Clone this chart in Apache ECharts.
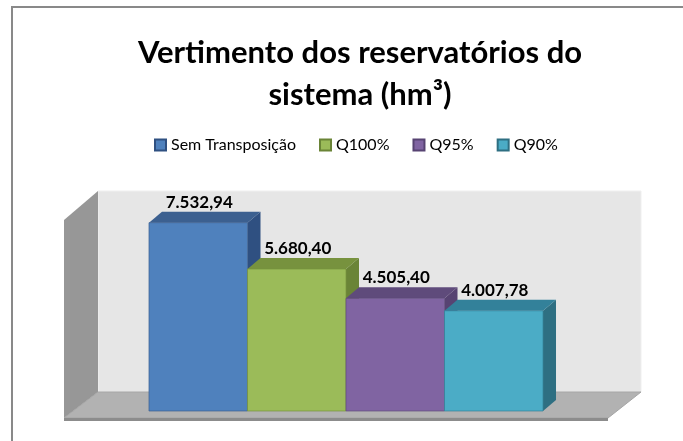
<!DOCTYPE html>
<html>
<head>
<meta charset="utf-8">
<script src="https://cdn.jsdelivr.net/npm/echarts@6/dist/echarts.min.js"></script>
<style>
  html, body { margin: 0; padding: 0; background: #fff; }
  #chart { width: 683px; height: 441px; }
</style>
</head>
<body>
<div id="chart"></div>
<script>
var categories = [''];
var seriesNames = ['Sem Transposição', 'Q100%', 'Q95%', 'Q90%'];
var seriesValues = [7532.94, 5680.40, 4505.40, 4007.78];

var frontColors = ['#4F81BD', '#9BBB59', '#8064A2', '#4BACC6'];
var topColors = ['#3C6090', '#77923E', '#5F4B7B', '#33819A'];
var sideColors = ['#2F5081', '#6A8437', '#574372', '#2E6F82'];

var myChart = echarts.init(document.getElementById('chart'));

// bar depth (back face offset) and bar width as part of the band
var depthX = 13, depthY = 11;
var barFrac = 0.1986;

function fmt(v) {
  var p = v.toFixed(2).split('.');
  return p[0].replace(/\B(?=(\d{3})+(?!\d))/g, '.') + ',' + p[1];
}

// back wall, left wall and floor of the 3D box
function renderWalls(params, api) {
  var cs = params.coordSys;
  var gx = cs.x, gy = cs.y, gw = cs.width;
  var zeroY = api.coord([0, 0])[1];
  var backB = zeroY - 19, frontB = zeroY + 7;
  return {
    type: 'group',
    silent: true,
    children: [
      { type: 'rect', shape: { x: gx, y: gy - 20, width: gw + 47, height: backB - gy + 20 },
        style: { fill: '#E6E6E6', stroke: '#EFEFEF', lineWidth: 1 } },
      { type: 'polygon', shape: { points: [[gx - 34, gy + 9], [gx, gy - 20], [gx, backB], [gx - 34, frontB]] },
        style: { fill: '#979797' } },
      { type: 'polygon', shape: { points: [[gx, backB], [gx + gw + 47, backB], [gx + gw + 14, frontB], [gx - 34, frontB]] },
        style: { fill: '#B2B2B2', stroke: '#A5A5A5', lineWidth: 1 } },
      { type: 'rect', shape: { x: gx - 34, y: frontB, width: gw + 48, height: 3 },
        style: { fill: '#8C8C8C' } }
    ]
  };
}

function renderBar(params, api) {
  var i = params.seriesIndex - 1;
  var base = api.coord([api.value(0), 0]);
  var top = api.coord([api.value(0), api.value(1)]);
  var band = api.size([1, 0])[0];
  var bw = band * barFrac;
  var x0 = base[0] - 2 * bw + i * bw, x1 = x0 + bw;
  var y0 = base[1], y1 = top[1];
  return {
    type: 'group',
    children: [
      { type: 'polygon', shape: { points: [[x1, y1], [x1 + depthX, y1 - depthY], [x1 + depthX, y0 - depthY], [x1, y0]] },
        style: { fill: sideColors[i] } },
      { type: 'polygon', shape: { points: [[x0, y1], [x0 + depthX, y1 - depthY], [x1 + depthX, y1 - depthY], [x1, y1]] },
        style: { fill: topColors[i] } },
      { type: 'rect', shape: { x: x0, y: y1, width: bw, height: y0 - y1 },
        style: { fill: frontColors[i], stroke: topColors[i], lineWidth: 0.7 } },
      { type: 'text', style: { text: fmt(api.value(1)), x: (x0 + x1) / 2 + 1, y: y1 - depthY - 1,
        align: 'center', verticalAlign: 'bottom', font: 'bold 17px Lato', fill: '#000' } }
    ]
  };
}

var series = [{
  type: 'custom',
  name: 'walls',
  silent: true,
  renderItem: renderWalls,
  data: [[0, 0]],
  encode: { x: 0, y: 1 },
  z: 1
}];
seriesNames.forEach(function (n, i) {
  series.push({
    type: 'custom',
    name: n,
    renderItem: renderBar,
    data: [[0, seriesValues[i]]],
    encode: { x: 0, y: 1 },
    itemStyle: { color: frontColors[i], borderColor: sideColors[i], borderWidth: 1 },
    z: 2
  });
});

var option = {
  backgroundColor: '#fff',
  animation: false,
  title: {
    text: 'Vertimento dos reservatórios do\nsistema (hm³)',
    left: 360,
    top: 32,
    padding: 0,
    textAlign: 'center',
    textStyle: { fontFamily: 'Lato', fontWeight: 'bold', fontSize: 31, lineHeight: 42, color: '#000' }
  },
  legend: {
    data: seriesNames,
    top: 137,
    left: 154,
    padding: 0,
    icon: 'rect',
    itemWidth: 11,
    itemHeight: 11,
    itemGap: 23,
    textStyle: { fontFamily: 'Lato', fontSize: 16, color: '#000' }
  },
  graphic: [{
    type: 'rect',
    shape: { x: 12, y: 7, width: 1000, height: 1000 },
    style: { fill: 'none', stroke: '#898989', lineWidth: 2 }
  }],
  grid: { left: 98, right: 89, top: 211, bottom: 30 },
  xAxis: {
    type: 'category',
    data: categories,
    show: false
  },
  yAxis: {
    type: 'value',
    min: 0,
    max: 8000,
    show: false
  },
  series: series
};
myChart.setOption(option);
</script>
</body>
</html>
